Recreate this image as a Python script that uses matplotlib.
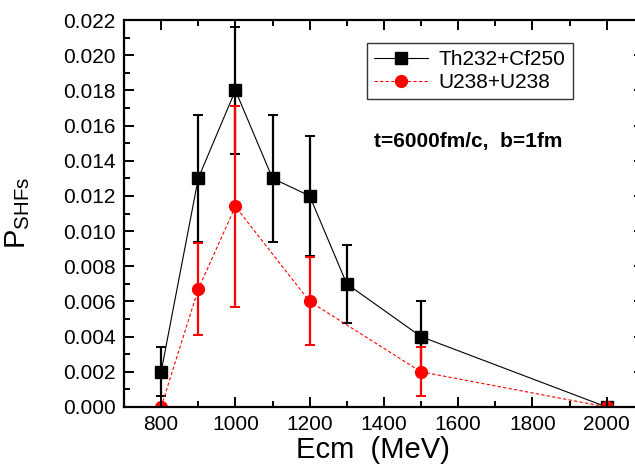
import matplotlib
matplotlib.use("Agg")
import matplotlib.pyplot as plt
from matplotlib.ticker import MultipleLocator, FormatStrFormatter

plt.rcParams['font.family'] = ['Liberation Sans', 'DejaVu Sans']
plt.rcParams['mathtext.fontset'] = 'custom'
plt.rcParams['mathtext.rm'] = 'Liberation Sans'

# Data
th_x = [800, 900, 1000, 1100, 1200, 1300, 1500, 2000]
th_y = [0.002, 0.013, 0.018, 0.013, 0.012, 0.007, 0.004, 0.0]
th_err = [0.0014, 0.0036, 0.0036, 0.0036, 0.0034, 0.0022, 0.002, 0.0]

u_x = [800, 900, 1000, 1200, 1500, 2000]
u_y = [0.0, 0.0067, 0.0114, 0.006, 0.002, 0.0]
u_err = [0.0, 0.0026, 0.0057, 0.0025, 0.0014, 0.0]

fig = plt.figure(figsize=(6.35, 4.68), dpi=100)
ax = fig.add_axes([124/635, 1-407/468, (643.8-124)/635, (407-20)/468])

ax.errorbar(th_x, th_y, yerr=th_err, fmt='none', ecolor='black',
            elinewidth=1.6, capsize=3.8, capthick=1.4, zorder=2)
ax.plot(th_x, th_y, '-', color='black', lw=0.8, marker='s', markersize=8,
        markerfacecolor='black', markeredgecolor='black', label='Th232+Cf250', zorder=2.1)
ax.errorbar(u_x, u_y, yerr=u_err, fmt='none', ecolor='red',
            elinewidth=1.6, capsize=3.8, capthick=1.4, zorder=2.2)
ax.plot(u_x, u_y, color='red', lw=0.8, linestyle=(0, (3, 2)), marker='o', markersize=8.5,
        markerfacecolor='red', markeredgecolor='red', label='U238+U238', zorder=2.3)

ax.set_xlim(700, 2100)
ax.set_ylim(0, 0.022)
ax.xaxis.set_major_locator(MultipleLocator(200))
ax.xaxis.set_minor_locator(MultipleLocator(100))
ax.yaxis.set_major_locator(MultipleLocator(0.002))
ax.yaxis.set_minor_locator(MultipleLocator(0.001))
ax.yaxis.set_major_formatter(FormatStrFormatter('%.3f'))
ax.set_axisbelow(False)

ax.tick_params(which='both', direction='in', top=True, right=True, width=1.4,
               labelsize=15, pad=6)
ax.tick_params(which='major', length=7)
ax.tick_params(which='minor', length=4)
for s in ax.spines.values():
    s.set_linewidth(1.6)

ax.set_xlabel('Ecm  (MeV)', fontsize=21)
ax.xaxis.set_label_coords((373-124)/519.8, (407-436)/387, transform=ax.transAxes)
ax.set_ylabel(r'$\mathregular{P_{SHFs}}$', fontsize=21)
ax.yaxis.set_label_coords((32-124)/519.8, 0.5)

leg = ax.legend(loc='upper left', bbox_to_anchor=(366.7/635, 1-42.7/468),
                bbox_transform=fig.transFigure, fontsize=15, frameon=True,
                fancybox=False, edgecolor='black', handlelength=2.6,
                handletextpad=0.5, labelspacing=0.2, borderpad=0.35,
                borderaxespad=0)
leg.get_frame().set_linewidth(1.0)

ax.text(468/635, 1-141.7/468, 't=6000fm/c,  b=1fm', transform=fig.transFigure,
        fontsize=15, fontweight='bold', ha='center', va='center')

fig.savefig('out.png', dpi=100)
